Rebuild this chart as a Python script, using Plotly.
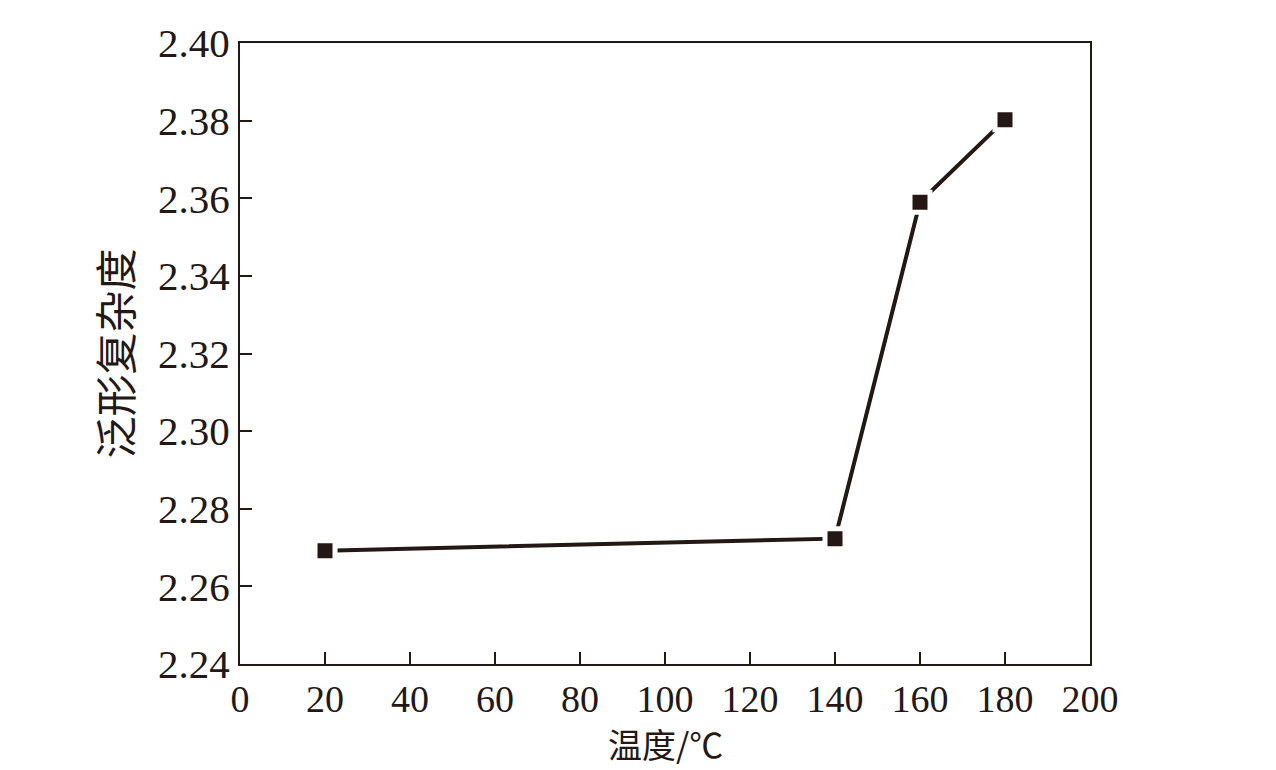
import plotly.graph_objects as go

temperature = [20, 140, 160, 180]
complexity = [2.2692, 2.2723, 2.359, 2.3802]
x_ticks = [0, 20, 40, 60, 80, 100, 120, 140, 160, 180, 200]
y_ticks = [2.24, 2.26, 2.28, 2.30, 2.32, 2.34, 2.36, 2.38, 2.40]
y_labels = ["%.2f" % v for v in y_ticks]

ink = "#231815"
serif = "Liberation Serif, Times New Roman, Noto Sans CJK SC, serif"
cjk = "Noto Sans CJK SC, " + serif

fig = go.Figure()
fig.add_trace(go.Scatter(
    x=temperature, y=complexity, mode="lines+markers",
    line=dict(color=ink, width=4),
    marker=dict(symbol="square", size=20, color=ink,
                line=dict(color="white", width=5)),
    showlegend=False,
))

fig.update_layout(
    width=1268, height=762,
    margin=dict(l=232, r=186, t=31, b=106),
    paper_bgcolor="white", plot_bgcolor="white",
    font=dict(family=serif, color=ink, size=41),
    xaxis=dict(
        range=[0, 200], tickvals=x_ticks, ticktext=[str(v) for v in x_ticks],
        ticks="inside", ticklen=12, tickwidth=2, tickcolor=ink,
        showline=True, linewidth=2, linecolor=ink, mirror=True,
        showgrid=False, zeroline=False,
        tickfont=dict(family=serif, size=38, color=ink),
    ),
    yaxis=dict(
        range=[2.24, 2.40], tickvals=y_ticks, ticktext=y_labels,
        ticks="inside", ticklen=12, tickwidth=2, tickcolor=ink,
        showline=True, linewidth=2, linecolor=ink, mirror=True,
        showgrid=False, zeroline=False,
        tickfont=dict(family=serif, size=41, color=ink),
        title=dict(text="泛形复杂度", standoff=12,
                   font=dict(family=cjk, size=42, color=ink)),
    ),
    annotations=[dict(
        text="温度/℃", xref="paper", yref="paper", x=0.5, y=-0.1285,
        xanchor="center", yanchor="middle", showarrow=False,
        font=dict(family=cjk, size=34, color=ink),
    )],
)

fig.write_html("out.html")
